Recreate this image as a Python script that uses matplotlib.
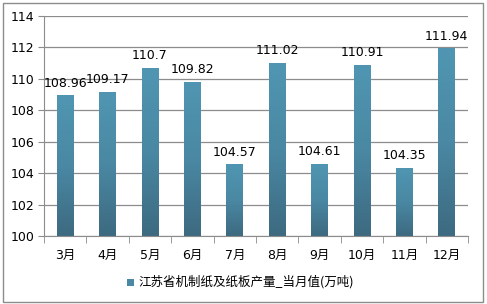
import numpy as np
import matplotlib
matplotlib.use("Agg")
import matplotlib.pyplot as plt
from matplotlib.patches import Rectangle

plt.rcParams["font.family"] = ["DejaVu Sans", "Noto Sans CJK SC"]

months = ["3月", "4月", "5月", "6月", "7月", "8月", "9月", "10月", "11月", "12月"]
values = [108.96, 109.17, 110.7, 109.82, 104.57, 111.02, 104.61, 110.91, 104.35, 111.94]
value_labels = ["108.96", "109.17", "110.7", "109.82", "104.57",
                "111.02", "104.61", "110.91", "104.35", "111.94"]
series_name = "江苏省机制纸及纸板产量_当月值(万吨)"
y_ticks = [100, 102, 104, 106, 108, 110, 112, 114]

fig = plt.figure(figsize=(4.87, 3.04), dpi=100)
ax = fig.add_axes([44 / 487, 1 - 236 / 304, 424 / 487, 220 / 304])

x = np.arange(len(months))
bar_w = 0.4
ax.set_xlim(-0.5, len(months) - 0.5)
ax.set_ylim(100, 114)

# vertical gradient for bars
grad = np.linspace(0, 1, 256).reshape(-1, 1)
cmap = matplotlib.colors.LinearSegmentedColormap.from_list(
    "bar", ["#3d6a80", "#4a88a3", "#5096b2"])
for xi, v in zip(x, values):
    rect = Rectangle((xi - bar_w / 2, 100), bar_w, v - 100,
                     facecolor="none", edgecolor="none")
    ax.add_patch(rect)
    im = ax.imshow(grad, cmap=cmap, aspect="auto", origin="lower",
                   extent=(xi - bar_w / 2, xi + bar_w / 2, 100, v), zorder=2)
    im.set_clip_path(rect)

for xi, v, lab in zip(x, values, value_labels):
    ax.text(xi, v + 0.35, lab, ha="center", va="bottom", fontsize=9, zorder=4)

ax.set_xlim(-0.5, len(months) - 0.5)
ax.set_ylim(100, 114)
ax.set_yticks(y_ticks)
ax.set_yticklabels([str(t) for t in y_ticks], fontsize=9)
ax.yaxis.grid(True, color="#8c8c8c", linewidth=0.9)
ax.set_axisbelow(True)

ax.set_xticks(x)
ax.set_xticklabels(months, fontsize=9)
ax.set_xticks(np.arange(-0.5, len(months)), minor=True)
ax.tick_params(axis="x", which="major", length=0, pad=9)
ax.tick_params(axis="x", which="minor", length=5, color="#8c8c8c")
ax.tick_params(axis="y", length=4, color="#8c8c8c", pad=3)

for s in ["top", "right"]:
    ax.spines[s].set_visible(False)
ax.spines["left"].set_color("#8c8c8c")
ax.spines["bottom"].set_color("#8c8c8c")

# legend
fig.patches.append(Rectangle((127 / 487, 1 - 286 / 304), 7 / 487, 7 / 304,
                             transform=fig.transFigure, facecolor="#4a88a3",
                             edgecolor="none"))
fig.text(138 / 487, 1 - 282 / 304, series_name, fontsize=9, va="center",
         ha="left", family=["Noto Sans CJK SC", "DejaVu Sans"])

# outer border
fig.patches.append(Rectangle((3 / 487, 2 / 304), 480 / 487, 299 / 304,
                             transform=fig.transFigure, facecolor="none",
                             edgecolor="#8c8c8c", linewidth=1))

fig.savefig("out.png", dpi=100)
